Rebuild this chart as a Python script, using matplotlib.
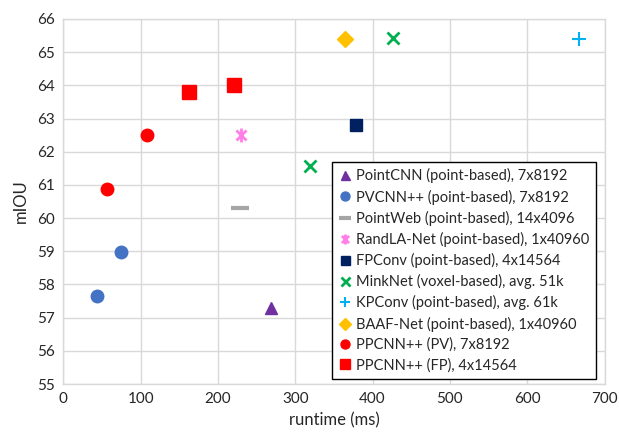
import matplotlib
matplotlib.use("Agg")
import matplotlib.pyplot as plt
from matplotlib.path import Path

plt.rcParams['font.family'] = ['Lato', 'DejaVu Sans']

# Data
labels = ["PointCNN (point-based), 7x8192", "PVCNN++ (point-based), 7x8192",
          "PointWeb (point-based), 14x4096", "RandLA-Net (point-based), 1x40960",
          "FPConv (point-based), 4x14564", "MinkNet (voxel-based), avg. 51k",
          "KPConv (point-based), avg. 61k", "BAAF-Net (point-based), 1x40960",
          "PPCNN++ (PV), 7x8192", "PPCNN++ (FP), 4x14564"]
pointcnn_x = [268]; pointcnn_y = [57.3]
pvcnn_x = [43, 75]; pvcnn_y = [57.64, 58.98]
pointweb_x = [228]; pointweb_y = [60.3]
randla_x = [230]; randla_y = [62.5]
fpconv_x = [379]; fpconv_y = [62.8]
minknet_x = [319, 427]; minknet_y = [61.58, 65.42]
kpconv_x = [667]; kpconv_y = [65.39]
baaf_x = [365]; baaf_y = [65.39]
ppcnn_pv_x = [57, 108]; ppcnn_pv_y = [60.88, 62.49]
ppcnn_fp_x = [162, 221]; ppcnn_fp_y = [63.79, 64.0]

xticks = [0, 100, 200, 300, 400, 500, 600, 700]
yticks = [55, 56, 57, 58, 59, 60, 61, 62, 63, 64, 65, 66]

star = Path([(0, -1), (0, 1), (-0.72, -0.72), (0.72, 0.72), (-0.72, 0.72), (0.72, -0.72)],
            [Path.MOVETO, Path.LINETO, Path.MOVETO, Path.LINETO, Path.MOVETO, Path.LINETO])

fig = plt.figure(figsize=(6.19, 4.38), dpi=100)
ax = fig.add_axes([63.3/619, 1-384/438, (604.5-63.3)/619, (384-19)/438])

kw = dict(linestyle='none')
ax.plot(pointcnn_x, pointcnn_y, marker='^', ms=9, color='#7030A0', label=labels[0], **kw)
ax.plot(pvcnn_x, pvcnn_y, marker='o', ms=9, color='#4472C4', label=labels[1], **kw)
ax.plot(pointweb_x, pointweb_y, marker='_', ms=12.5, mew=3, color='#A5A5A5', label=labels[2], **kw)
ax.plot(randla_x, randla_y, marker=star, ms=10, mew=2, color='#FF7FE6', label=labels[3], **kw)
ax.plot(fpconv_x, fpconv_y, marker='s', ms=9, color='#002060', label=labels[4], **kw)
ax.plot(minknet_x, minknet_y, marker='x', ms=9, mew=2, color='#00B050', label=labels[5], **kw)
ax.plot(kpconv_x, kpconv_y, marker='+', ms=10, mew=1.5, color='#00B0F0', label=labels[6], **kw)
ax.plot(baaf_x, baaf_y, marker='D', ms=8, color='#FFC000', label=labels[7], **kw)
ax.plot(ppcnn_pv_x, ppcnn_pv_y, marker='o', ms=9, color='#FF0000', label=labels[8], **kw)
ax.plot(ppcnn_fp_x, ppcnn_fp_y, marker='s', ms=9.5, color='#FF0000', label=labels[9], **kw)

ax.set_xlim(0, 700)
ax.set_ylim(55, 66)
ax.set_xticks(xticks)
ax.set_yticks(yticks)
ax.grid(True, color='#D9D9D9', linewidth=1)
ax.set_axisbelow(True)
for s in ax.spines.values():
    s.set_color('#D9D9D9')
    s.set_linewidth(1)
ax.tick_params(length=0, labelsize=11, colors='#262626', pad=6)
ax.set_xlabel('runtime (ms)', fontsize=12, color='#262626', labelpad=4)
ax.set_ylabel('mIOU', fontsize=12, color='#262626', labelpad=6)

leg = fig.legend(loc='upper left', bbox_to_anchor=(331.7/619, 1-161.7/438),
                 frameon=True, fancybox=False, framealpha=1, edgecolor='black',
                 fontsize=10.5, handlelength=0.9, handletextpad=0.35, labelspacing=0.42,
                 borderpad=0.45, borderaxespad=0, markerscale=0.72)
leg.get_frame().set_linewidth(1)
for t in leg.get_texts():
    t.set_color('#262626')

fig.savefig('out.png', dpi=100)
